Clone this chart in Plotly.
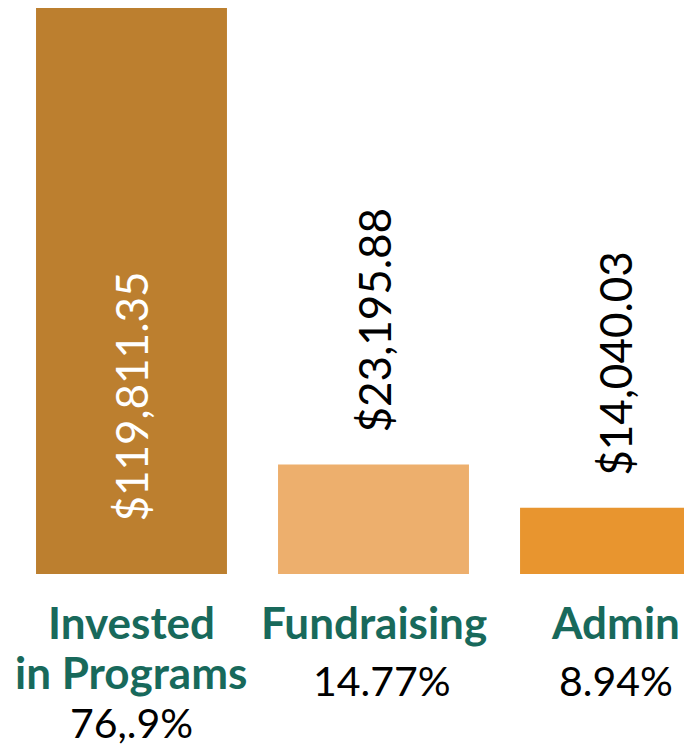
import plotly.graph_objects as go

categories = ["Invested<br>in Programs", "Fundraising", "Admin"]
cat_lines = [["Invested", "in Programs"], ["Fundraising"], ["Admin"]]
values = [119811.35, 23195.88, 14040.03]
value_labels = ["$119,811.35", "$23,195.88", "$14,040.03"]
pct_labels = ["76,.9%", "14.77%", "8.94%"]
colors = ["#BC7F2F", "#EDAF6D", "#E8952F"]

TEAL = "#18695B"
FONT = "Lato"

fig = go.Figure()
fig.add_trace(go.Bar(
    x=[0, 1, 2], y=values, marker=dict(color=colors, line=dict(width=0)),
    width=0.789, hoverinfo="skip", showlegend=False,
))

ann = []
# value labels
for i, (v, lab) in enumerate(zip(values, value_labels)):
    if i == 0:
        ann.append(dict(x=i, y=0, text=lab, textangle=-90, showarrow=False,
                        xanchor="center", yanchor="bottom", yshift=51,
                        font=dict(family=FONT, size=44, color="white")))
    else:
        ann.append(dict(x=i, y=v, text=lab, textangle=-90, showarrow=False,
                        xanchor="center", yanchor="bottom", yshift=30,
                        font=dict(family=FONT, size=44, color="black")))

# category labels
for i, lines in enumerate(cat_lines):
    for j, ln in enumerate(lines):
        ann.append(dict(x=i, y=0, text="<b>" + ln + "</b>", showarrow=False,
                        xanchor="center", yanchor="middle", yshift=-(48 + 50 * j),
                        height=50,
                        font=dict(family=FONT, size=44, color=TEAL)))
# percentages
pct_shift = [-148, -106, -106]
pct_dx = [0, 8, 0]
for i, p in enumerate(pct_labels):
    ann.append(dict(x=i, y=0, text=p, showarrow=False, xanchor="center",
                    yanchor="middle", yshift=pct_shift[i], xshift=pct_dx[i],
                    height=44,
                    font=dict(family=FONT, size=41, color="black")))

fig.update_layout(
    width=676, height=737,
    margin=dict(l=2, r=0, t=0, b=171),
    paper_bgcolor="white", plot_bgcolor="white",
    xaxis=dict(range=[-0.502, 2.283], showticklabels=False, showgrid=False,
               zeroline=False, showline=False, fixedrange=True),
    yaxis=dict(range=[0, 119811.35], showticklabels=False, showgrid=False,
               zeroline=False, showline=False, fixedrange=True),
    annotations=ann,
)

fig.write_html("out.html")
